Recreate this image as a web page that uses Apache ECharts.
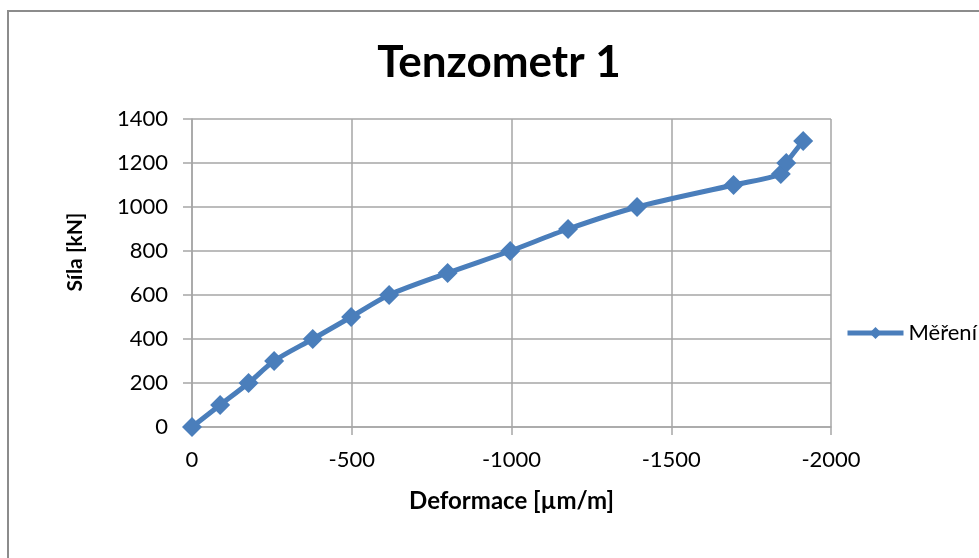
<!DOCTYPE html>
<html>
<head>
<meta charset="utf-8">
<script src="https://cdn.jsdelivr.net/npm/echarts@6/dist/echarts.min.js"></script>
<style>
html,body{margin:0;padding:0;background:#fff;}
#chart{width:979px;height:558px;}
</style>
</head>
<body>
<div id="chart"></div>
<script>
const deformation = [0, -88, -177, -257, -378, -498, -617, -800, -996, -1177, -1393, -1695, -1843, -1860, -1913];
const force = [0, 100, 200, 300, 400, 500, 600, 700, 800, 900, 1000, 1100, 1150, 1200, 1300];
const seriesName = 'Měření';
const titleText = 'Tenzometr 1';
const xName = 'Deformace [µm/m]';
const yName = 'Síla [kN]';

const points = deformation.map((d, i) => [d, force[i]]);
const font = 'Lato, "Open Sans", sans-serif';
const gridColor = '#a6a6a6';
const blue = '#4a7ebb';

const chart = echarts.init(document.getElementById('chart'), null, {renderer: 'canvas'});
chart.setOption({
  animation: false,
  backgroundColor: '#ffffff',
  title: {
    text: titleText,
    left: 494, textAlign: 'center', top: 36,
    textStyle: {fontFamily: font, fontWeight: 'bold', fontSize: 44, color: '#000'}
  },
  graphic: [{
    type: 'rect', shape: {x: 8, y: 11, width: 1200, height: 800},
    style: {fill: 'none', stroke: '#8c8c8c', lineWidth: 2}, silent: true, z: -1
  }],
  legend: {
    left: 840, top: 317, itemWidth: 56, itemHeight: 15, itemGap: 4,
    lineStyle: {width: 5},
    textStyle: {fontFamily: font, fontSize: 22, color: '#000'},
    data: [seriesName]
  },
  grid: {left: 192, right: 148, top: 119, bottom: 131, containLabel: false},
  xAxis: {
    type: 'value', inverse: true, min: -2000, max: 0, interval: 500,
    name: xName, nameLocation: 'middle', nameGap: 62,
    nameTextStyle: {fontFamily: font, fontWeight: 'bold', fontSize: 24, color: '#000'},
    axisLine: {show: true, onZero: false, lineStyle: {color: gridColor, width: 1.5}},
    axisTick: {show: true, length: 8, lineStyle: {color: gridColor, width: 1.5}},
    axisLabel: {fontFamily: font, fontSize: 22, color: '#000', margin: 22,
      formatter: v => String(v)},
    splitLine: {show: true, lineStyle: {color: gridColor, width: 1.5}}
  },
  yAxis: {
    type: 'value', min: 0, max: 1400, interval: 200,
    name: yName, nameLocation: 'middle', nameGap: 106, nameRotate: 90,
    nameTextStyle: {fontFamily: font, fontWeight: 'bold', fontSize: 21, color: '#000',
      padding: [0, 0, 0, 42]},
    axisLine: {show: true, lineStyle: {color: gridColor, width: 1.5}},
    axisTick: {show: true, length: 9, lineStyle: {color: gridColor, width: 1.5}},
    axisLabel: {fontFamily: font, fontSize: 22, color: '#000', margin: 24,
      formatter: v => String(v)},
    splitLine: {show: true, lineStyle: {color: gridColor, width: 1.5}}
  },
  series: [{
    name: seriesName, type: 'line', data: points, smooth: 0.3,
    symbol: 'diamond', symbolSize: 20,
    lineStyle: {color: blue, width: 5},
    itemStyle: {color: blue}
  }]
});
</script>
</body>
</html>
